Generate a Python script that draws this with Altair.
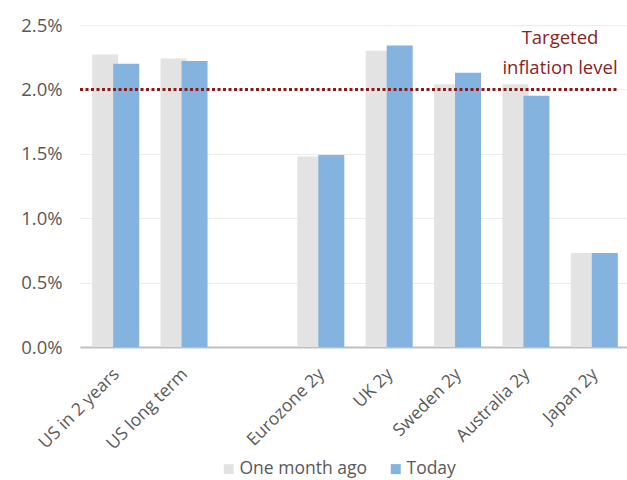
import altair as alt
import pandas as pd

categories = ["US in 2 years", "US long term", "Eurozone 2y", "UK 2y", "Sweden 2y", "Australia 2y", "Japan 2y"]
domain = ["US in 2 years", "US long term", " ", "Eurozone 2y", "UK 2y", "Sweden 2y", "Australia 2y", "Japan 2y"]
month_ago = [2.27, 2.24, 1.48, 2.30, 2.04, 2.04, 0.73]
today = [2.20, 2.22, 1.49, 2.34, 2.13, 1.95, 0.73]
series_names = ["One month ago", "Today"]
series_colors = ["#e3e3e3", "#84b3df"]
target_level = 2.0
y_ticks = [0, 0.5, 1.0, 1.5, 2.0, 2.5]

rows = []
for c, a, t in zip(categories, month_ago, today):
    rows.append({"category": c, "series": "One month ago", "value": a})
    rows.append({"category": c, "series": "Today", "value": t})
df = pd.DataFrame(rows)

FONT = "Open Sans"
LABEL = "#595959"

x_enc = alt.X(
    "category:N",
    scale=alt.Scale(domain=domain, paddingInner=0, paddingOuter=0),
    axis=alt.Axis(
        title=None, labelAngle=-45, labelFontSize=17.5, labelColor=LABEL, labelFont=FONT,
        ticks=False, domainColor="#bfbfbf", domainWidth=2, labelPadding=18, labelOffset=-4,
    ),
)
y_enc = alt.Y(
    "value:Q",
    scale=alt.Scale(domain=[0, 2.5], nice=False),
    axis=alt.Axis(
        title=None, values=y_ticks, labelExpr="format(datum.value, '.1f') + '%'",
        labelFontSize=18.5, labelColor=LABEL, labelFont=FONT, ticks=False, domain=False,
        gridColor="#ececec", gridWidth=1, labelPadding=18,
    ),
)
color_enc = alt.Color(
    "series:N",
    scale=alt.Scale(domain=series_names, range=series_colors),
    legend=alt.Legend(
        title=None, orient="none", direction="horizontal", legendX=140, legendY=435,
        labelFontSize=17.5, labelColor=LABEL, labelFont=FONT, symbolType="square",
        symbolSize=100, symbolStrokeWidth=0, columnPadding=20, labelOffset=2,
    ),
)

base = alt.Chart(df)
gray = base.transform_filter(alt.datum.series == "One month ago").mark_bar(width=26, xOffset=-9).encode(
    x=x_enc, y=y_enc, color=color_enc
)
blue = base.transform_filter(alt.datum.series == "Today").mark_bar(width=26, xOffset=12).encode(
    x=x_enc, y=y_enc, color=color_enc
)

one = alt.Chart(pd.DataFrame({"level": [target_level]}))
rule = one.mark_rule(color="#8b1a1a", strokeWidth=3, strokeDash=[3, 2.5]).encode(
    y="level:Q", x=alt.value(0), x2=alt.value(538)
)
txt1 = one.mark_text(text="Targeted", color="#8b2323", fontSize=18.5, font=FONT, align="center", baseline="middle").encode(
    x=alt.value(480), y=alt.datum(2.40)
)
txt2 = one.mark_text(text="inflation level", color="#8b2323", fontSize=18.5, font=FONT, align="center", baseline="middle").encode(
    x=alt.value(480), y=alt.datum(2.17)
)

chart = alt.layer(gray, blue, rule, txt1, txt2).properties(
    width=547, height=322,
    autosize=alt.AutoSizeParams(type="none"),
    padding={"left": 80, "top": 25, "right": 0, "bottom": 133},
).configure_view(stroke=None)

chart.save("out.html", embed_options={"renderer": "svg", "actions": False})
